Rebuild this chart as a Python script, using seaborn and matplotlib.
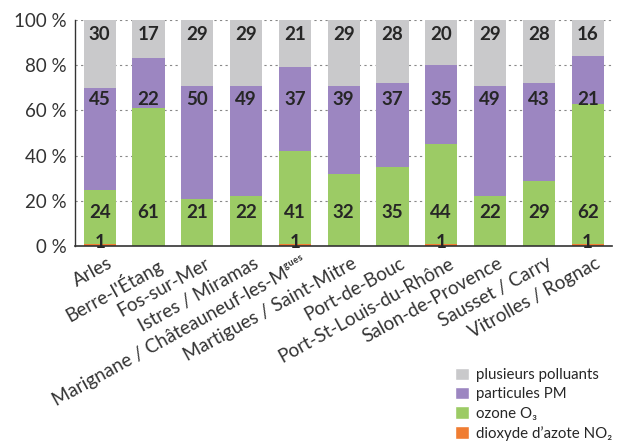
import matplotlib
matplotlib.use("Agg")
import matplotlib.pyplot as plt
import matplotlib.transforms as mtransforms
import seaborn as sns
import numpy as np
import pandas as pd
from matplotlib.patches import Patch

sns.set_theme(style="white")
plt.rcParams['font.family'] = ['Lato', 'DejaVu Sans']

communes = ["Arles", "Berre-l'Étang", "Fos-sur-Mer", "Istres / Miramas",
            "Marignane / Châteauneuf-les-Mᵍᵘᵉˢ", "Martigues / Saint-Mitre",
            "Port-de-Bouc", "Port-St-Louis-du-Rhône", "Salon-de-Provence",
            "Sausset / Carry", "Vitrolles / Rognac"]
no2 = [1, 0, 0, 0, 1, 0, 0, 1, 0, 0, 1]
ozone = [24, 61, 21, 22, 41, 32, 35, 44, 22, 29, 62]
pm = [45, 22, 50, 49, 37, 39, 37, 35, 49, 43, 21]
plusieurs = [30, 17, 29, 29, 21, 29, 28, 20, 29, 28, 16]
series_names = ["dioxyde d’azote NO₂", "ozone O₃", "particules PM", "plusieurs polluants"]
yticks = [0, 20, 40, 60, 80, 100]

colors = ["#F07D32", "#9CCB65", "#9C86C1", "#C9C9CB"]
label_y = [1.5, 15, 65, 93.5]

fig = plt.figure(figsize=(6.22, 4.45), dpi=100)
ax = fig.add_axes([0.121, 0.447, 0.863, 0.508])

df = pd.DataFrame({"commune": communes, "no2": no2, "ozone": ozone, "pm": pm, "plus": plusieurs})
cols = ["no2", "ozone", "pm", "plus"]
bottom = np.zeros(len(communes))
for c, col in zip(cols, colors):
    sns.barplot(data=df, x="commune", y=c, bottom=bottom, color=col, width=0.66,
                saturation=1, ax=ax, edgecolor="none", zorder=2)
    bottom = bottom + df[c].values

for i in range(len(communes)):
    for c, ly in zip(cols, label_y):
        v = df[c].iloc[i]
        if v > 0:
            ax.text(i, ly, str(v), ha="center", va="center", fontsize=13.5,
                    fontweight="bold", color="#262626", zorder=4)

ax.set_xlim(-0.5, len(communes) - 0.5)
ax.set_ylim(0, 100)
ax.set_yticks(yticks)
ax.set_yticklabels([f"{t} %" for t in yticks], fontsize=13.5, color="#333333")
ax.set_xlabel("")
ax.set_ylabel("")
ax.set_xticks(range(len(communes)))
ax.set_xticks(np.arange(0.5, len(communes) - 0.5 + 0.01, 1), minor=True)
ax.tick_params(axis="x", which="major", length=0, pad=6)
ax.tick_params(axis="x", which="minor", direction="in", length=6, color="#333333", width=1)
ax.tick_params(axis="y", length=3, color="#333333", pad=3)
ax.set_xticklabels(communes, rotation=29, ha="right", rotation_mode="anchor",
                   fontsize=13.5, color="#333333")
shift = mtransforms.ScaledTranslation(7 / 100, 0, fig.dpi_scale_trans)
for lab in ax.xaxis.get_majorticklabels():
    lab.set_transform(lab.get_transform() + shift)
for t in yticks[1:]:
    ax.axhline(t, color="#888888", linestyle=(0, (2, 3)), linewidth=0.8, zorder=1)
for s in ["top", "right"]:
    ax.spines[s].set_visible(False)
ax.spines["left"].set_color("#333333")
ax.spines["bottom"].set_color("#333333")
ax.spines["left"].set_linewidth(1)
ax.spines["bottom"].set_linewidth(1.2)

handles = [Patch(facecolor=c) for c in colors[::-1]]
fig.legend(handles, series_names[::-1], loc="lower right", bbox_to_anchor=(1.0, -0.012),
           frameon=False, fontsize=10.8, handlelength=0.9, handleheight=0.9,
           handletextpad=0.5, labelspacing=0.33, borderaxespad=0.25)

fig.savefig("out.png", dpi=100)
